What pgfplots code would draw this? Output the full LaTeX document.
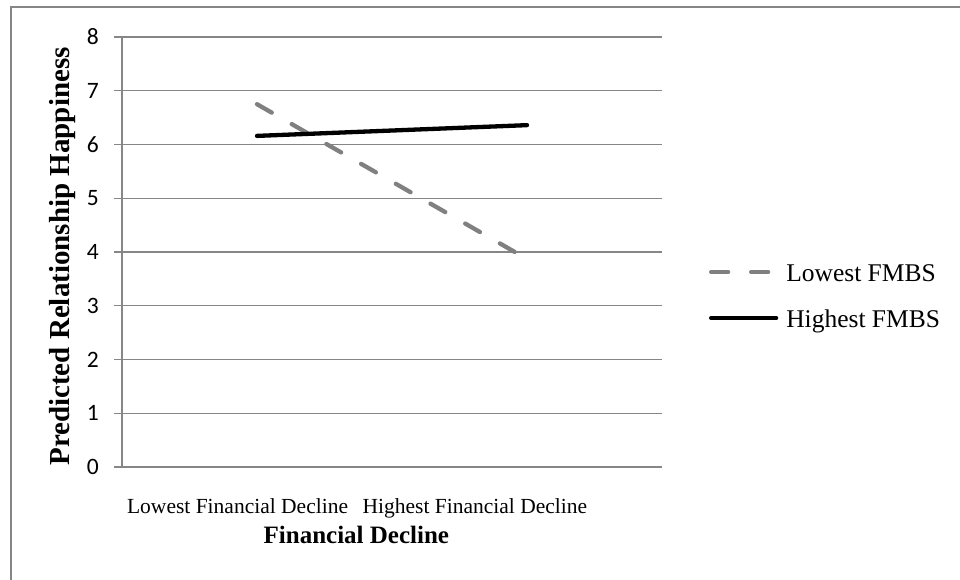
\documentclass[border=0pt]{standalone}
\usepackage{fontspec}
\setmainfont{Liberation Serif}
\newfontfamily\tickfont{Carlito}
\usepackage{pgfplots}
\pgfplotsset{compat=1.18}
\definecolor{gridgray}{RGB}{134,134,134}
\definecolor{linegray}{RGB}{128,128,128}
\begin{document}
\begin{tikzpicture}
\useasboundingbox (0pt,0pt) rectangle (960pt,580pt);
\draw[gridgray, line width=1.8pt] (11pt,0pt) -- (11pt,572.7pt) -- (960pt,572.7pt);
\begin{axis}[
  at={(122pt,113pt)}, anchor=south west,
  scale only axis, width=540pt, height=430pt,
  xmin=-0.5, xmax=1.5, ymin=0, ymax=8,
  axis x line*=bottom, axis y line*=left,
  axis line style={gridgray, line width=1.4pt},
  ytick={0,1,2,3,4,5,6,7,8},
  ymajorgrids, grid style={gridgray, line width=1.4pt},
  tick align=outside,
  ytick style={gridgray, line width=1.4pt},
  major tick length=8pt,
  xtick={-0.072,0.807},
  xticklabels={Lowest Financial Decline, Highest Financial Decline},
  xtick style={draw=none},
  xticklabel style={font=\fontsize{21.5}{26}\selectfont, anchor=base, inner sep=0pt, yshift=-39pt},
  yticklabel style={font=\fontsize{23.5}{28}\tickfont, anchor=east, inner sep=0pt, xshift=-15pt},
  /pgf/number format/assume math mode=true,
  xlabel={\textbf{Financial Decline}},
  xlabel style={font=\fontsize{25}{30}\selectfont, at={(axis description cs:0.434,-0.179)}, anchor=base, inner sep=0pt},
  ylabel={\textbf{Predicted Relationship Happiness}},
  ylabel style={font=\fontsize{29}{34}\selectfont, at={(axis description cs:-0.0963,0.4895)}, anchor=base, inner sep=0pt},
  legend cell align=left,
  legend image code/.code={\draw[#1] (0pt,3pt) -- (65pt,3pt);},
  legend style={draw=none, fill=none, inner sep=0pt, outer sep=0pt,
    at={(axis description cs:1.087,0.393)}, anchor=west,
    font=\fontsize{25.5}{30}\selectfont,
    nodes={inner sep=0pt, text height=18pt, text depth=6pt},
    row sep=22pt,
    /tikz/every odd column/.append style={column sep=8pt}},
  clip=false,
]
\addplot[linegray, line width=4.3pt, line cap=round, dash pattern=on 17pt off 23pt] coordinates {(0,6.75) (1,3.87)};
\addlegendentry{Lowest FMBS}
\addplot[black, line width=4.3pt, line cap=round] coordinates {(0,6.16) (1,6.36)};
\addlegendentry{Highest FMBS}
\end{axis}
\end{tikzpicture}
\end{document}
